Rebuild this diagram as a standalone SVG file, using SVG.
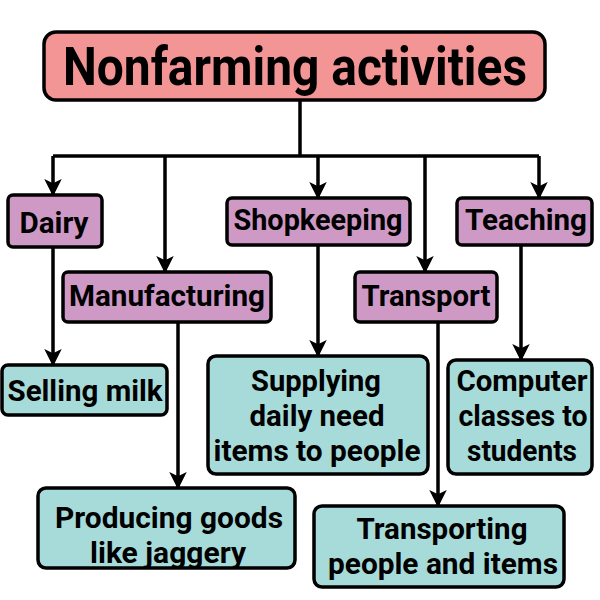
<svg xmlns="http://www.w3.org/2000/svg" width="600" height="600" viewBox="0 0 600 600">
<defs>
<style>
.box{stroke:#000;stroke-width:3.5}
.t{fill:#f49595}
.p{fill:#cf99c6}
.g{fill:#a6dbd9}
text{font-family:Roboto,"Liberation Sans",sans-serif;font-weight:700;fill:#000;text-anchor:middle}
.lbl{font-size:30px}
.ttl{font-size:54px}
.c{fill:none;stroke:#000;stroke-width:3.5}
</style>
<marker id="ah" viewBox="0 0 12 12" refX="11" refY="6" markerWidth="5" markerHeight="5" markerUnits="strokeWidth" orient="auto">
<path d="M0,0 L12,6 L0,12 L3,6 z" fill="#000"/>
</marker>
</defs>
<rect width="600" height="600" fill="#fff"/>
<g id="connectors">
<path class="c" d="M300,100 V156"/>
<path class="c" d="M53,156 H539"/>
<path class="c" d="M53,156 V195" marker-end="url(#ah)"/>
<path class="c" d="M165,156 V272" marker-end="url(#ah)"/>
<path class="c" d="M318,156 V198" marker-end="url(#ah)"/>
<path class="c" d="M425,156 V272" marker-end="url(#ah)"/>
<path class="c" d="M539,156 V198" marker-end="url(#ah)"/>
<path class="c" d="M53,247 V365" marker-end="url(#ah)"/>
<path class="c" d="M178,322 V488" marker-end="url(#ah)"/>
<path class="c" d="M318,245 V356" marker-end="url(#ah)"/>
<path class="c" d="M438,322 V506" marker-end="url(#ah)"/>
<path class="c" d="M521,245 V360" marker-end="url(#ah)"/>
</g>
<g id="title"><rect class="box t" x="44" y="32" width="501" height="68" rx="12"/><text class="ttl" x="295" y="85" textLength="464" lengthAdjust="spacingAndGlyphs">Nonfarming activities</text></g>
<g id="dairy"><rect class="box p" x="8" y="195" width="94" height="52" rx="5"/><text class="lbl" x="54" y="233" textLength="69" lengthAdjust="spacingAndGlyphs">Dairy</text></g>
<g id="manufacturing"><rect class="box p" x="63" y="272" width="208" height="50" rx="5"/><text class="lbl" x="167" y="306" textLength="196" lengthAdjust="spacingAndGlyphs">Manufacturing</text></g>
<g id="shopkeeping"><rect class="box p" x="227" y="198" width="183" height="47" rx="5"/><text class="lbl" x="318" y="230" textLength="169" lengthAdjust="spacingAndGlyphs">Shopkeeping</text></g>
<g id="teaching"><rect class="box p" x="457" y="198" width="135" height="47" rx="5"/><text class="lbl" x="526" y="230" textLength="122" lengthAdjust="spacingAndGlyphs">Teaching</text></g>
<g id="transport"><rect class="box p" x="355" y="272" width="142" height="50" rx="5"/><text class="lbl" x="426" y="306" textLength="129" lengthAdjust="spacingAndGlyphs">Transport</text></g>
<g id="selling"><rect class="box g" x="2" y="365" width="165" height="50" rx="6"/><text class="lbl" x="85" y="401" textLength="155" lengthAdjust="spacingAndGlyphs">Selling milk</text></g>
<g id="supplying"><rect class="box g" x="208" y="356" width="220" height="118" rx="8"/><text class="lbl" x="316" y="391" textLength="130" lengthAdjust="spacingAndGlyphs">Supplying</text><text class="lbl" x="317" y="426" textLength="135" lengthAdjust="spacingAndGlyphs">daily need</text><text class="lbl" x="317" y="461" textLength="207" lengthAdjust="spacingAndGlyphs">items to people</text></g>
<g id="computer"><rect class="box g" x="448" y="360" width="144" height="114" rx="8"/><text class="lbl" x="522" y="391" textLength="131" lengthAdjust="spacingAndGlyphs">Computer</text><text class="lbl" x="523" y="426" textLength="129" lengthAdjust="spacingAndGlyphs">classes to</text><text class="lbl" x="522" y="461" textLength="110" lengthAdjust="spacingAndGlyphs">students</text></g>
<g id="producing"><rect class="box g" x="38" y="488" width="257" height="80" rx="8"/><text class="lbl" x="169" y="528" textLength="228" lengthAdjust="spacingAndGlyphs">Producing goods</text><text class="lbl" x="168" y="563" textLength="156" lengthAdjust="spacingAndGlyphs">like jaggery</text></g>
<g id="transporting"><rect class="box g" x="314" y="506" width="250" height="81" rx="8"/><text class="lbl" x="442" y="539" textLength="171" lengthAdjust="spacingAndGlyphs">Transporting</text><text class="lbl" x="443" y="574" textLength="230" lengthAdjust="spacingAndGlyphs">people and items</text></g>
</svg>
